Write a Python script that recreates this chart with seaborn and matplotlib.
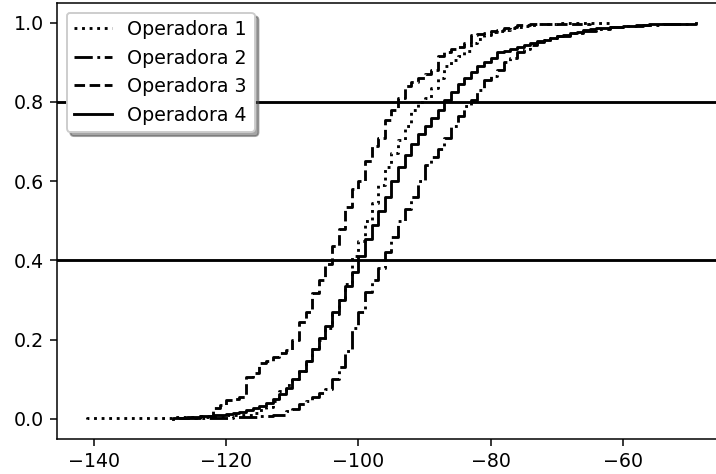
import numpy as np
import pandas as pd
import matplotlib
matplotlib.use("Agg")
import matplotlib.pyplot as plt
import seaborn as sns

# Signal level (dBm) and cumulative proportion, per operator
op1_x = [-141, -128, -120, -116, -115, -114, -113, -112, -111, -110, -109, -108, -107, -106,
         -105, -104, -103, -102, -101, -100, -99, -98, -97, -96, -95, -94, -93, -92, -91, -90,
         -89, -88, -87, -86, -85, -84, -83, -82, -81, -80, -79, -78, -77, -76, -75, -74, -73,
         -72, -70, -62]
op1_F = [0.003, 0.005, 0.01, 0.015, 0.022, 0.03, 0.045, 0.07, 0.085, 0.1, 0.12, 0.145, 0.175, 0.2,
         0.23, 0.265, 0.3, 0.34, 0.41, 0.45, 0.5, 0.545, 0.59, 0.635, 0.67, 0.705, 0.74, 0.78, 0.8, 0.81,
         0.835, 0.86, 0.89, 0.905, 0.915, 0.93, 0.95, 0.96, 0.968, 0.977, 0.98, 0.983, 0.987, 0.99, 0.993, 0.995, 0.997,
         0.998, 0.999, 1.0]

op2_x = [-127, -119, -115, -113, -111, -110, -109, -108, -107, -106, -105, -104, -103, -102,
         -101, -100, -99, -98, -97, -96, -95, -94, -93, -92, -91, -90, -89, -88, -87, -86, -85,
         -84, -83, -82, -81, -80, -79, -78, -77, -76, -75, -74, -73, -72, -71, -70, -68, -66,
         -64, -62, -60, -57, -54, -50]
op2_F = [0.002, 0.005, 0.008, 0.01, 0.02, 0.025, 0.038, 0.045, 0.055, 0.065, 0.075, 0.1, 0.13, 0.17,
         0.23, 0.27, 0.32, 0.35, 0.38, 0.42, 0.46, 0.5, 0.53, 0.56, 0.6, 0.64, 0.66, 0.68, 0.71, 0.74, 0.765,
         0.79, 0.805, 0.83, 0.855, 0.865, 0.88, 0.9, 0.91, 0.925, 0.935, 0.945, 0.952, 0.957, 0.962, 0.967, 0.974, 0.98,
         0.985, 0.989, 0.992, 0.995, 0.998, 1.0]

op3_x = [-127, -124, -122, -121, -120, -119, -118, -117, -116, -115, -114, -113, -112, -111,
         -110, -109, -108, -107, -106, -105, -104, -103, -102, -101, -100, -99, -98, -97, -96,
         -95, -94, -93, -92, -91, -90, -89, -88, -87, -86, -85, -84, -83, -82, -81, -80, -79,
         -78, -77, -76, -74, -70, -65]
op3_F = [0.003, 0.006, 0.027, 0.035, 0.048, 0.05, 0.056, 0.106, 0.116, 0.14, 0.145, 0.157, 0.165, 0.174,
         0.2, 0.245, 0.27, 0.318, 0.35, 0.39, 0.435, 0.48, 0.535, 0.58, 0.6, 0.65, 0.69, 0.71, 0.755,
         0.78, 0.81, 0.84, 0.85, 0.86, 0.87, 0.88, 0.915, 0.925, 0.935, 0.94, 0.95, 0.97, 0.972, 0.975, 0.98, 0.983,
         0.987, 0.99, 0.995, 0.997, 0.998, 1.0]

op4_x = [-128, -126, -124, -122, -120, -119, -118, -117, -116, -115, -114, -113, -112, -111,
         -110, -109, -108, -107, -106, -105, -104, -103, -102, -101, -100, -99, -98, -97, -96,
         -95, -94, -93, -92, -91, -90, -89, -88, -87, -86, -85, -84, -83, -82, -81, -80, -79,
         -78, -77, -76, -75, -74, -73, -72, -71, -70, -69, -68, -67, -66, -65, -64, -63, -62,
         -60, -58, -56, -54, -52, -49]
op4_F = [0.003, 0.005, 0.008, 0.01, 0.012, 0.015, 0.018, 0.022, 0.027, 0.032, 0.04, 0.05, 0.062, 0.078,
         0.1, 0.12, 0.145, 0.175, 0.205, 0.235, 0.27, 0.3, 0.335, 0.37, 0.41, 0.455, 0.49, 0.525, 0.56,
         0.6, 0.635, 0.665, 0.695, 0.72, 0.74, 0.76, 0.78, 0.805, 0.825, 0.845, 0.86, 0.875, 0.89, 0.9, 0.91, 0.925,
         0.93, 0.935, 0.94, 0.945, 0.95, 0.953, 0.957, 0.962, 0.967, 0.97, 0.974, 0.978, 0.981, 0.984, 0.986, 0.988, 0.99,
         0.992, 0.994, 0.996, 0.997, 0.998, 1.0]

labels = ["Operadora 1", "Operadora 2", "Operadora 3", "Operadora 4"]
series = [(op1_x, op1_F), (op2_x, op2_F), (op3_x, op3_F), (op4_x, op4_F)]
styles = [":", "-.", "--", "-"]
thresholds = [0.8, 0.4]
xticks = [-140, -120, -100, -80, -60]
yticks = [0.0, 0.2, 0.4, 0.6, 0.8, 1.0]

frames = []
for lab, (xs, F) in zip(labels, series):
    F = np.asarray(F, dtype=float)
    w = np.diff(np.r_[0.0, F])
    frames.append(pd.DataFrame({"dBm": xs, "w": w, "op": lab}))
df = pd.concat(frames, ignore_index=True)

dpi = 137
fig = plt.figure(figsize=(716 / dpi, 474 / dpi), dpi=dpi)
ax = fig.add_axes([57 / 716, 35.5 / 474, 669 / 716, 435.5 / 474])

for lab, ls in zip(labels, styles):
    sns.ecdfplot(data=df[df["op"] == lab], x="dBm", weights="w", ax=ax,
                 color="black", linestyle=ls, linewidth=1.5, label=lab)

for t in thresholds:
    ax.axhline(t, color="black", linewidth=1.5)

ax.set_xticks(xticks)
ax.set_yticks(yticks)
ax.set_xlim(-145.6, -44.4)
ax.set_ylim(-0.05, 1.05)
ax.set_xlabel("")
ax.set_ylabel("")
ax.legend(loc="upper left", shadow=True, fontsize=10)

fig.savefig("out.png", dpi=dpi)
